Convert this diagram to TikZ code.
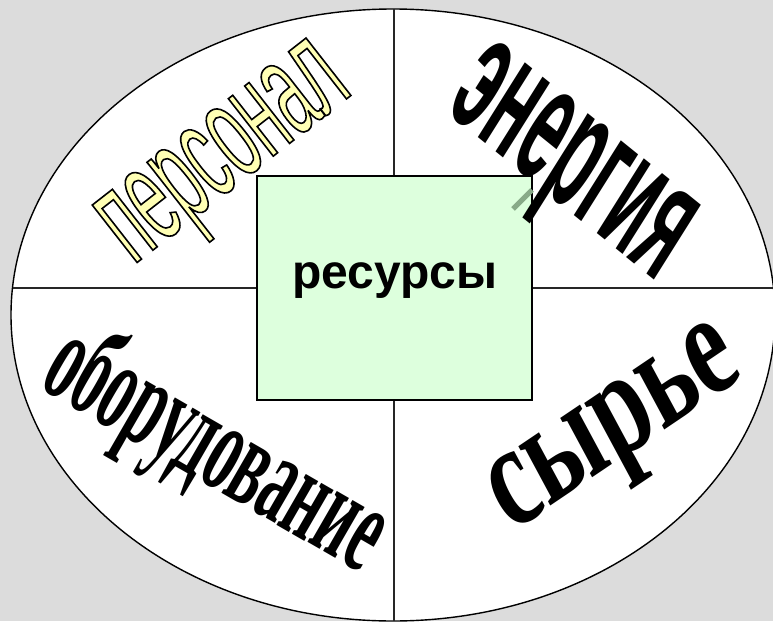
\documentclass[tikz,border=0pt]{standalone}
\usepackage{fontspec}
\usetikzlibrary{shapes.geometric}
\setmainfont{Liberation Sans}
\newfontfamily\fres{Liberation Sans}
\newfontfamily\fpers[FakeStretch=0.46]{Liberation Sans}
\newfontfamily\fener[FakeStretch=0.42]{Liberation Sans}
\newfontfamily\fobor[FakeStretch=0.48]{Liberation Serif}
\newfontfamily\fsyr[FakeStretch=0.70]{Liberation Serif}
\definecolor{bggrey}{RGB}{220,220,220}
\definecolor{boxgreen}{RGB}{221,255,221}
\definecolor{persfill}{RGB}{255,255,180}
\definecolor{strayline}{RGB}{136,170,136}
\tikzset{
  wordart/.style={inner sep=0pt, outer sep=0pt, anchor=center, transform shape},
  divider/.style={draw=black!85, line width=1.3pt},
}
\begin{document}
\begin{tikzpicture}[x=1pt, y=-1pt]
  \useasboundingbox[fill=bggrey] (0,0) rectangle (773,621);
  % ellipse
  \node[ellipse, draw=black, line width=1.4pt, fill=white,
        minimum width=764pt, minimum height=612pt, inner sep=0pt] (oval) at (393,315) {};
  % dividing lines
  \coordinate (topv) at (394,9);
  \coordinate (botv) at (394,621);
  \coordinate (lefth) at (12.5,288);
  \coordinate (righth) at (773,288);
  \draw[divider] (topv) -- (botv);
  \draw[divider] (lefth) -- (righth);
  % centre box
  \node[draw=black, line width=1.4pt, fill=boxgreen, minimum width=275pt,
        minimum height=224pt, inner sep=0pt] (box) at (394.5,288) {};
  \node[anchor=base, inner sep=0pt] (res) at (395,288)
        {\fres\bfseries\fontsize{48}{48}\selectfont ресурсы};
  % stray segment
  \coordinate (s1) at (513,209);
  \coordinate (s2) at (532,190);
  \draw[strayline, line width=5pt] (s1) -- (s2);
  % персонал
  \begin{scope}[shift={(230,161)}, rotate=38]
    \node[wordart] (pers) {\fpers\fontsize{138}{138}\selectfont
      \color{persfill}\special{pdf:literal direct 2 Tr 1.6 w 0 0 0 RG}персонал\special{pdf:literal direct 0 Tr}};
  \end{scope}
  % энергия
  \begin{scope}[shift={(566,173)}, rotate=-39, xslant=-0.12]
    \node[wordart] (ener) {\fener\bfseries\fontsize{166}{166}\selectfont энергия};
  \end{scope}
  % оборудование
  \begin{scope}[shift={(215,452)}, rotate=-30]
    \node[wordart] (obor) {\fobor\bfseries\fontsize{128}{128}\selectfont оборудование};
  \end{scope}
  % сырье
  \begin{scope}[shift={(619,438)}, rotate=34, xslant=0.1]
    \node[wordart] (syr) {\fsyr\bfseries\fontsize{146}{146}\selectfont сырье};
  \end{scope}
\end{tikzpicture}
\end{document}
